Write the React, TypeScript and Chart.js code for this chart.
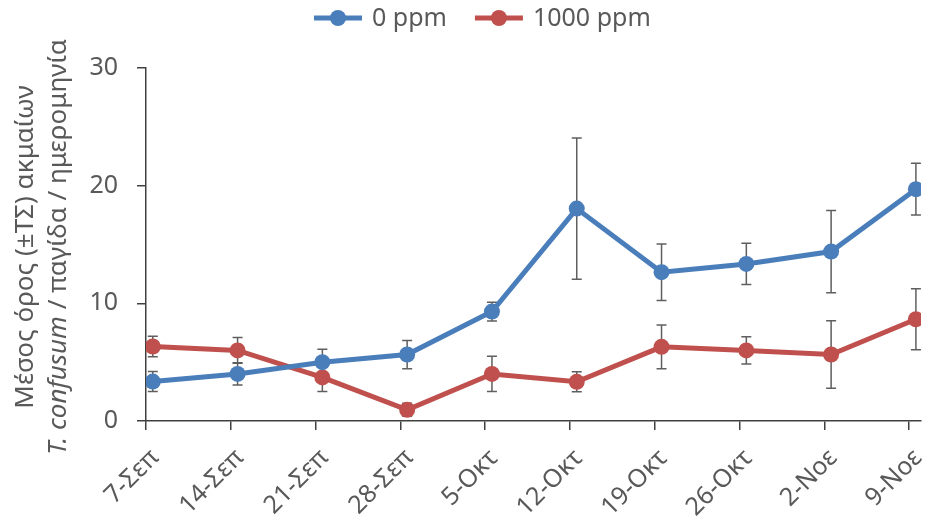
import React, { useEffect, useRef } from "react";
import { Chart, registerables } from "chart.js";

Chart.register(...registerables);

// Sampling dates and weekly trap catches (mean ± SE)
const dates = ["7-Σεπ", "14-Σεπ", "21-Σεπ", "28-Σεπ", "5-Οκτ", "12-Οκτ", "19-Οκτ", "26-Οκτ", "2-Νοε", "9-Νοε"];
const seriesNames = ["0 ppm", "1000 ppm"];
const control = [3.35, 4.0, 5.0, 5.65, 9.3, 18.05, 12.65, 13.35, 14.4, 19.7];
const controlSE = [0.85, 0.95, 1.1, 1.2, 0.8, 6.0, 2.4, 1.75, 3.5, 2.2];
const treated = [6.33, 6.0, 3.7, 0.95, 4.0, 3.33, 6.3, 6.0, 5.65, 8.65];
const treatedSE = [0.87, 1.1, 1.2, 0.55, 1.5, 0.85, 1.85, 1.15, 2.87, 2.6];
const yTicks = [0, 10, 20, 30];
const yTitle1 = "Μέσος όρος (±ΤΣ) ακμαίων";
const yTitle2Italic = "T. confusum";
const yTitle2Rest = " / παγίδα / ημερομηνία";

const FONT = '"Noto Sans", "DejaVu Sans", sans-serif';
const TEXT = "#595959";
const AXIS = "#404040";
const BLUE = "#4A7EBB";
const RED = "#C0504D";
const TICK_SHIFT = 0.08;

const errorBars = {
  id: "errorBars",
  beforeDatasetsDraw(chart: any) {
    const ctx = chart.ctx;
    const y = chart.scales.y;
    const errs = [controlSE, treatedSE];
    ctx.save();
    ctx.strokeStyle = "#5f5f5f";
    ctx.lineWidth = 1.5;
    chart.data.datasets.forEach((ds: any, di: number) => {
      const meta = chart.getDatasetMeta(di);
      meta.data.forEach((pt: any, i: number) => {
        const v = ds.data[i].y;
        const e = errs[di][i];
        const top = y.getPixelForValue(v + e);
        const bot = y.getPixelForValue(v - e);
        ctx.beginPath();
        ctx.moveTo(pt.x, top);
        ctx.lineTo(pt.x, bot);
        ctx.moveTo(pt.x - 5, top);
        ctx.lineTo(pt.x + 5, top);
        ctx.moveTo(pt.x - 5, bot);
        ctx.lineTo(pt.x + 5, bot);
        ctx.stroke();
      });
    });
    ctx.restore();
  },
};

const textLayer = {
  id: "textLayer",
  afterDraw(chart: any) {
    const ctx = chart.ctx;
    const area = chart.chartArea;

    // legend
    ctx.save();
    ctx.font = `25px ${FONT}`;
    ctx.textBaseline = "middle";
    let x = 314;
    const ly = 18;
    const colors = [BLUE, RED];
    seriesNames.forEach((name, i) => {
      ctx.strokeStyle = colors[i];
      ctx.fillStyle = colors[i];
      ctx.lineWidth = 5;
      ctx.beginPath();
      ctx.moveTo(x, ly);
      ctx.lineTo(x + 48, ly);
      ctx.stroke();
      ctx.beginPath();
      ctx.arc(x + 24, ly, 8, 0, Math.PI * 2);
      ctx.fill();
      ctx.fillStyle = TEXT;
      ctx.textAlign = "left";
      ctx.fillText(name, x + 58, ly + 1);
      x += 58 + ctx.measureText(name).width + 28;
    });
    ctx.restore();

    // x tick labels, rotated 45°
    ctx.save();
    ctx.font = `25px ${FONT}`;
    ctx.fillStyle = TEXT;
    ctx.textAlign = "right";
    ctx.textBaseline = "alphabetic";
    const xs = chart.scales.x;
    dates.forEach((d, i) => {
      const tx = xs.getPixelForValue(i - TICK_SHIFT);
      ctx.save();
      ctx.translate(tx + 14, area.bottom + 38);
      ctx.rotate(-Math.PI / 4);
      ctx.fillText(d, 0, 0);
      ctx.restore();
    });
    ctx.restore();

    // y-axis title (two lines, rotated)
    ctx.save();
    const cy = 247;
    ctx.translate(0, cy);
    ctx.rotate(-Math.PI / 2);
    ctx.fillStyle = TEXT;
    ctx.textBaseline = "alphabetic";
    ctx.textAlign = "left";
    const normal = `26px ${FONT}`;
    const italic = `italic 26px ${FONT}`;
    ctx.font = normal;
    const w1 = ctx.measureText(yTitle1).width;
    ctx.fillText(yTitle1, -w1 / 2, 33);
    ctx.font = italic;
    const wa = ctx.measureText(yTitle2Italic).width;
    ctx.font = normal;
    const wb = ctx.measureText(yTitle2Rest).width;
    const sx = -(wa + wb) / 2;
    ctx.font = italic;
    ctx.fillText(yTitle2Italic, sx, 66);
    ctx.font = normal;
    ctx.fillText(yTitle2Rest, sx + wa, 66);
    ctx.restore();
  },
};

export default function App() {
  const ref = useRef<HTMLCanvasElement>(null);

  useEffect(() => {
    if (!ref.current) return;
    const chart = new Chart(ref.current, {
      type: "line",
      data: {
        datasets: [
          {
            label: seriesNames[0],
            data: control.map((v, i) => ({ x: i, y: v })),
            borderColor: BLUE,
            backgroundColor: BLUE,
            borderWidth: 5,
            pointRadius: 8,
            pointHoverRadius: 8,
            pointBorderWidth: 0,
            tension: 0,
          },
          {
            label: seriesNames[1],
            data: treated.map((v, i) => ({ x: i, y: v })),
            borderColor: RED,
            backgroundColor: RED,
            borderWidth: 5,
            pointRadius: 8,
            pointHoverRadius: 8,
            pointBorderWidth: 0,
            tension: 0,
          },
        ],
      },
      options: {
        animation: false,
        responsive: false,
        layout: { padding: { top: 68, right: 4, left: 0, bottom: 0 } },
        plugins: {
          legend: { display: false },
          tooltip: { enabled: false },
        },
        scales: {
          x: {
            type: "linear",
            min: -TICK_SHIFT,
            max: dates.length - 1 + 0.06,
            afterBuildTicks(scale: any) {
              scale.ticks = dates.map((_, i) => ({ value: i - TICK_SHIFT }));
            },
            afterFit(scale: any) {
              scale.height = 101;
            },
            ticks: { display: false },
            grid: {
              drawOnChartArea: false,
              drawTicks: true,
              tickLength: 9,
              color: AXIS,
              lineWidth: 1.5,
            },
            border: { display: true, color: AXIS, width: 1.5 },
          },
          y: {
            min: 0,
            max: 30,
            afterBuildTicks(scale: any) {
              scale.ticks = yTicks.map((v) => ({ value: v }));
            },
            afterFit(scale: any) {
              scale.width = 146;
            },
            ticks: {
              color: TEXT,
              font: { family: FONT, size: 25 },
              padding: 19,
            },
            grid: {
              drawOnChartArea: false,
              drawTicks: true,
              tickLength: 9,
              color: AXIS,
              lineWidth: 1.5,
            },
            border: { display: true, color: AXIS, width: 1.5 },
          },
        },
      },
      plugins: [errorBars, textLayer],
    });
    return () => chart.destroy();
  }, []);

  return (
    <div style={{ position: "absolute", left: 0, top: 0, width: 929, height: 522, background: "#fff" }}>
      <canvas ref={ref} width={929} height={522} style={{ display: "block" }} />
    </div>
  );
}
